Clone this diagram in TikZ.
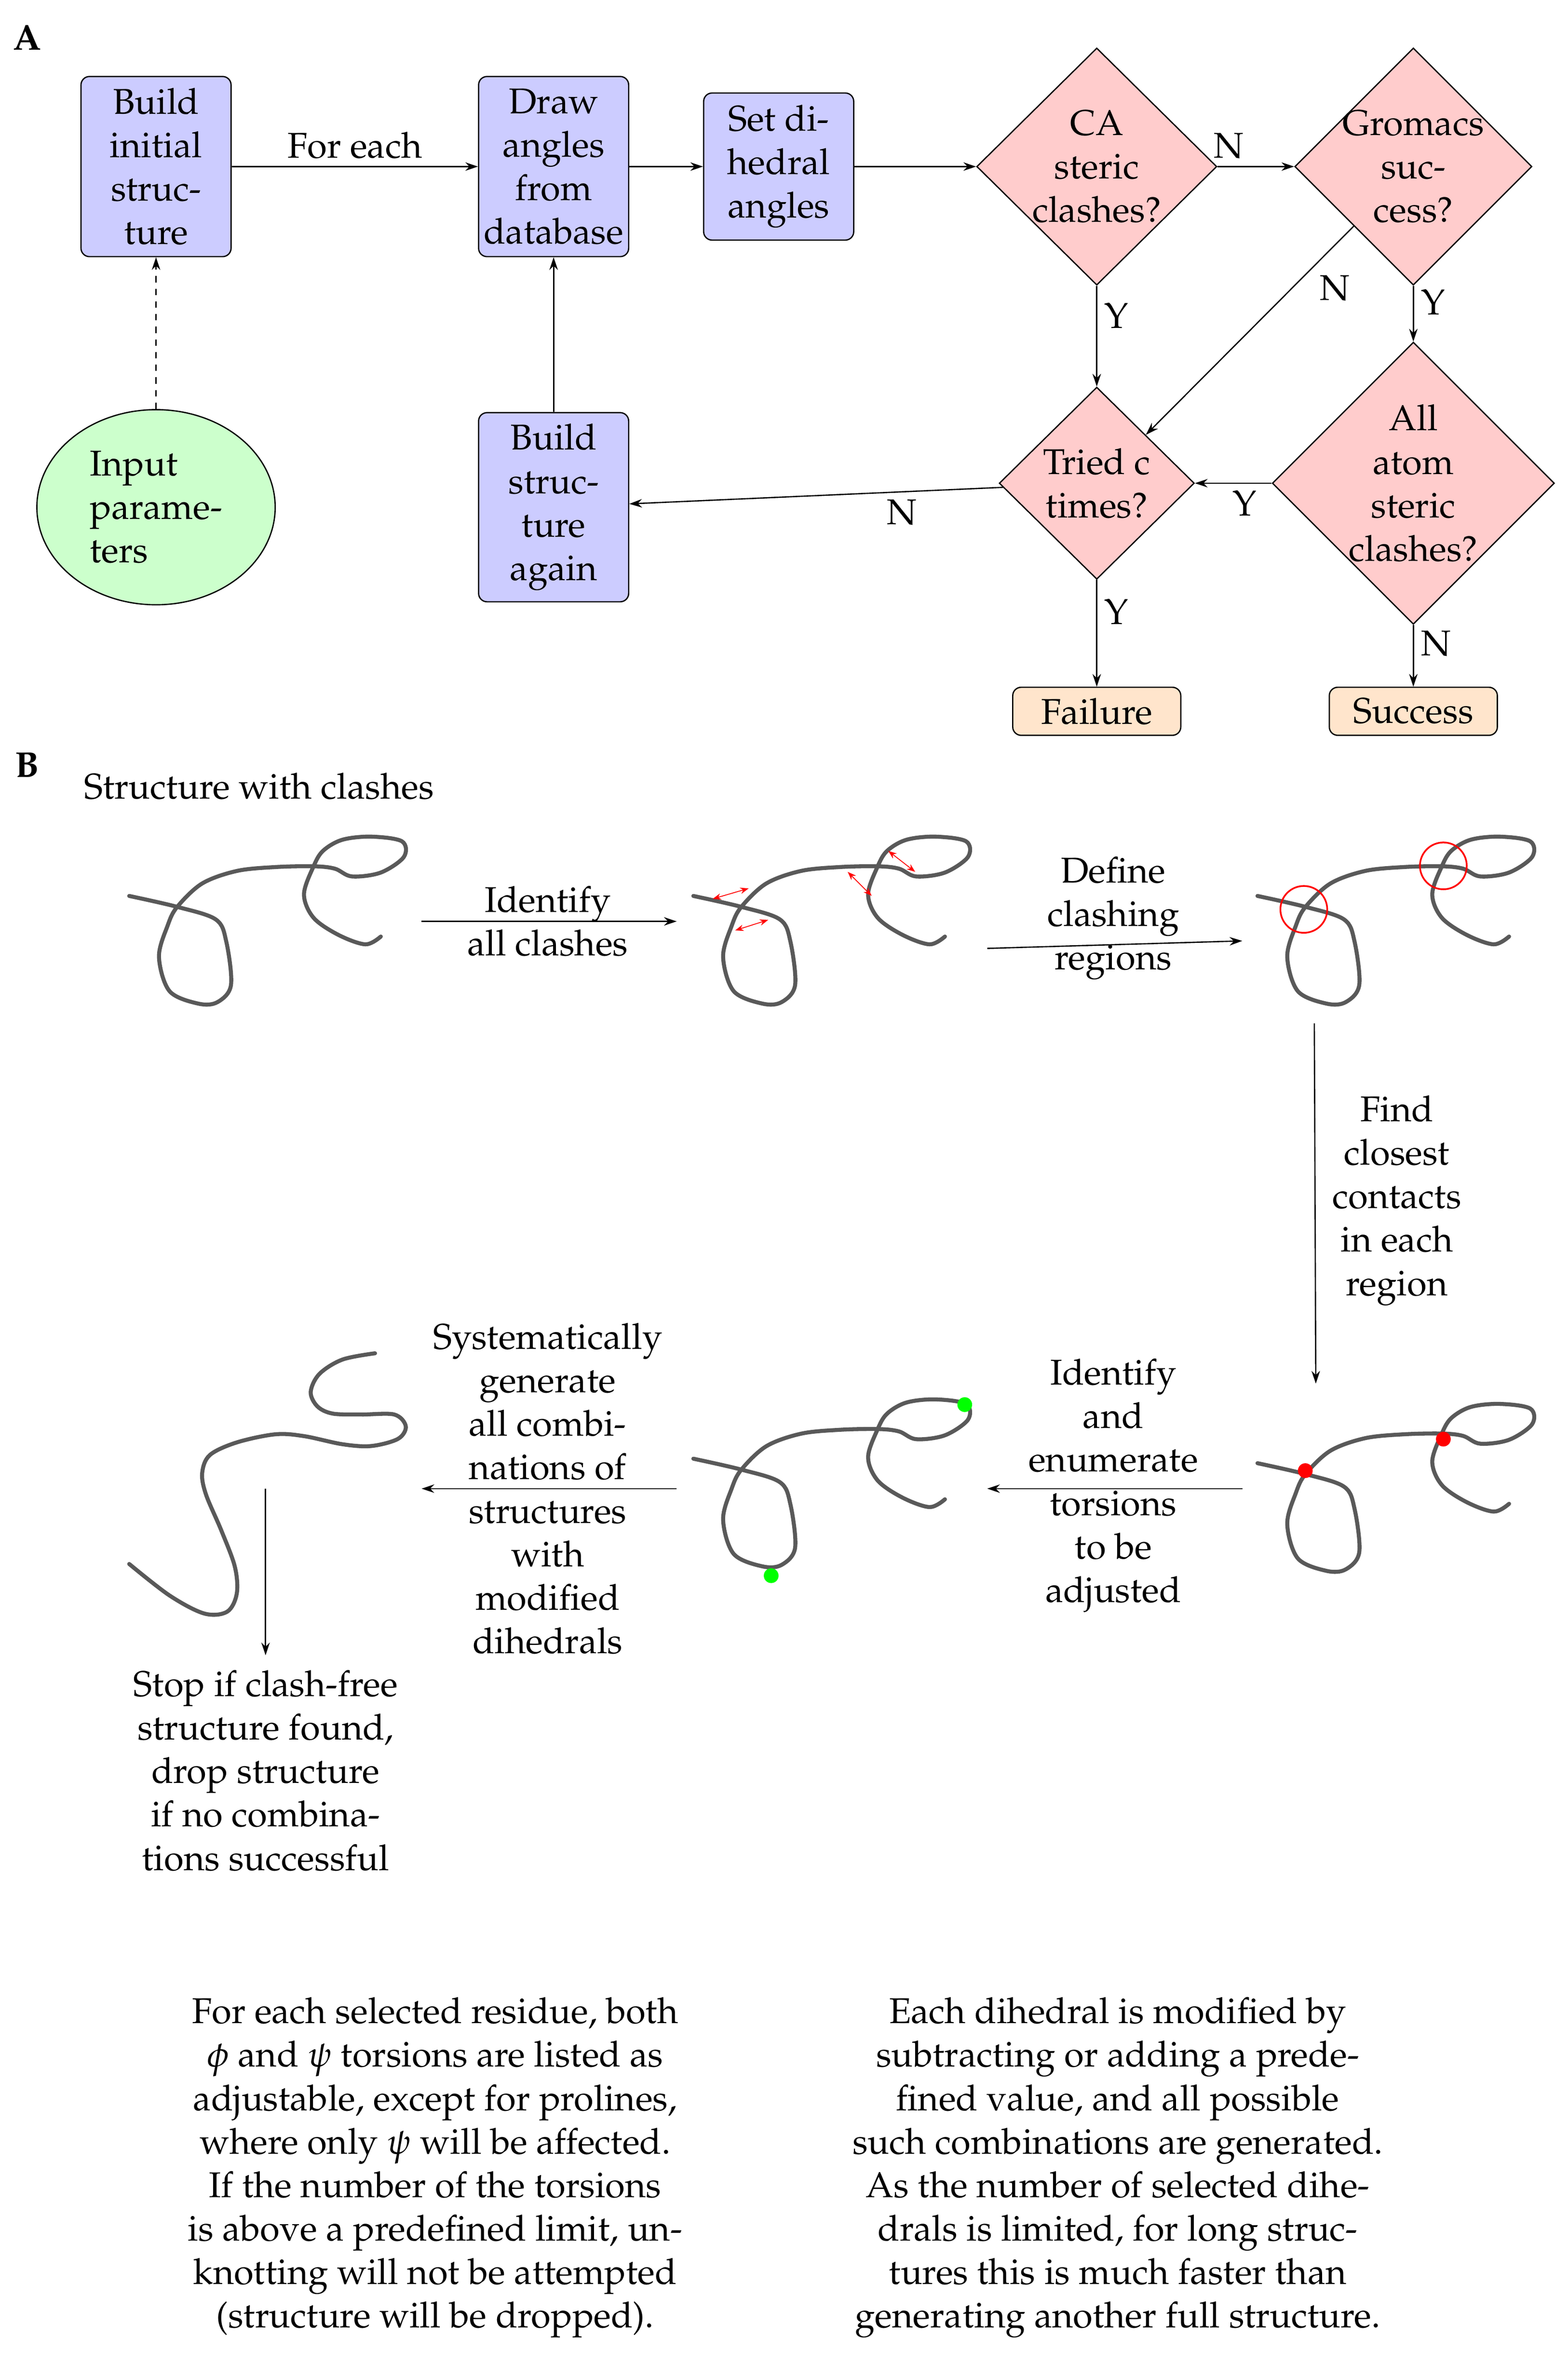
\documentclass[tikz,border=0pt]{standalone}
\usepackage[T1]{fontenc}
\usepackage{mathpazo}
\usetikzlibrary{shapes.geometric,arrows.meta}
\newcommand{\narrow}[1]{\makebox[1.5cm]{#1}}
\begin{document}
\begin{tikzpicture}[x={(0.025cm,0)},y={(0,-0.025cm)},
		font=\fontsize{17pt}{20.6pt}\selectfont,
		every path/.style={semithick},
		stage/.style={rectangle,rounded corners,draw,fill=blue!20,align=center,minimum width=2.5cm,minimum height=3cm,inner sep=2pt},
		test/.style={diamond,draw,fill=red!20,align=center,inner sep=0pt},
		ends/.style={rectangle,rounded corners,draw,fill=orange!20,minimum width=2.8cm,minimum height=0.8cm,inner sep=0pt},
		marrow/.style={-{Stealth[length=6pt,width=4pt]},semithick},
		chain/.style={line width=1.9pt,draw=black!65,line cap=round},
		clash/.style={{Stealth[length=4pt]}-{Stealth[length=4pt]},red,thin},
		txt/.style={align=center}]
		\useasboundingbox (0,0) rectangle (1045,1576);
		\node[font=\fontsize{17pt}{20.6pt}\bfseries] (la) at (18,25) {A};
		\node[font=\fontsize{17pt}{20.6pt}\bfseries] (lb) at (18,510) {B};

		% part A
		\node[stage] (init) at (104,111) {Build\\initial\\struc-\\ture};
		\node[stage] (draw) at (369,111) {Draw\\angles\\from\\database};
		\node[stage,minimum height=2.45cm] (set) at (519,111) {Set di-\\hedral\\angles};
		\node[test,minimum width=4cm,minimum height=3.95cm] (ca) at (731,111) {CA\\steric\\\narrow{clashes?}};
		\node[test,minimum width=3.95cm,minimum height=3.95cm] (gro) at (942,111) {\narrow{Gromacs}\\suc-\\cess?};
		\node[ellipse,draw,fill=green!20,align=left,minimum width=3.97cm,minimum height=3.25cm] (inp) at (104,338) {Input\\parame-\\ters};
		\node[stage,minimum height=3.15cm] (again) at (369,338) {Build\\struc-\\ture\\again};
		\node[test,minimum width=3.25cm,minimum height=3.2cm] (tried) at (731,322) {Tried c\\times?};
		\node[test,minimum width=4.7cm,minimum height=4.7cm] (atom) at (942,322) {All\\atom\\steric\\\narrow{clashes?}};
		\node[ends] (fail) at (731,474) {Failure};
		\node[ends] (succ) at (942,474) {Success};

		% connection
		\draw [marrow] (init) to node [above] {For each} (draw);
		\draw [marrow] (draw) to (set);
		\draw [marrow] (set) to (ca);
		\draw [marrow] (ca) to node [pos=0.15,above] {N} (gro);
		\draw [marrow] (ca) to node [pos=0.3,right] {Y} (tried);
		\draw [marrow] (gro.south west) to node [pos=0.2,below right] {N} (tried.north east);
		\draw [marrow] (gro) to node [pos=0.3,right] {Y} (atom);
		\draw [marrow] (atom) to node [pos=0.35,below] {Y} (tried);
		\draw [marrow] (tried) to node [pos=0.27,below] {N} (again);
		\draw [marrow] (again) to (draw);
		\draw [marrow,dashed] (inp) to (init);
		\draw [marrow] (tried) to node [pos=0.3,right] {Y} (fail);
		\draw [marrow] (atom) to node [pos=0.3,right] {N} (succ);

		% part B
		\node[anchor=west] (swc) at (51,524) {Structure with clashes};
		\foreach \dx/\dy in {0/0,376/0,752/0,376/375,752/378} {
			\begin{scope}[shift={(81+\dx,544+\dy)},xscale=0.128,yscale=0.104]
				\draw[chain] plot[smooth,tension=0.55] coordinates {(40,510) (290,580) (490,660) (545,800) (570,1080) (500,1190) (400,1200) (250,1120) (195,900) (240,700) (290,580) (420,430) (600,350) (800,325) (1000,320) (1110,335) (1200,385) (1350,360) (1470,260) (1460,160) (1300,130) (1150,150) (1050,220) (1000,320) (950,500) (1000,650) (1130,760) (1270,820) (1350,770)};
			\end{scope}
		}
		\begin{scope}[shift={(81,888)},xscale=0.128,yscale=0.12]
			\draw[chain] plot[smooth,tension=0.55] coordinates {(1320,115) (1150,150) (1030,230) (985,330) (1020,410) (1100,450) (1250,455) (1420,455) (1480,520) (1440,590) (1300,630) (1150,620) (950,575) (800,565) (600,610) (460,680) (420,780) (440,900) (520,1100) (590,1300) (600,1450) (550,1550) (430,1560) (250,1460) (40,1285)};
		\end{scope}
		\draw[clash] (475,599) -- (499,592);
		\draw[clash] (490,620) -- (512,613);
		\draw[clash] (565,581) -- (581,597);
		\draw[clash] (592,567) -- (610,581);
		\node[circle,draw=red,thick,minimum size=0.78cm] (ra) at (869,606) {};
		\node[circle,draw=red,thick,minimum size=0.78cm] (rb) at (962,577) {};
		\node[circle,fill=red,inner sep=0pt,minimum size=7pt] (da) at (870,980) {};
		\node[circle,fill=red,inner sep=0pt,minimum size=7pt] (db) at (962,959) {};
		\node[circle,fill=green,inner sep=0pt,minimum size=7pt] (ga) at (643,936) {};
		\node[circle,fill=green,inner sep=0pt,minimum size=7pt] (gb) at (514,1050) {};

		\coordinate (s1) at (281,614); \coordinate (e1) at (451,614);
		\coordinate (s2) at (658,632); \coordinate (e2) at (828,627);
		\coordinate (s3) at (876,682); \coordinate (e3) at (877,922);
		\coordinate (s4) at (828,992); \coordinate (e4) at (658,992);
		\coordinate (s5) at (451,992); \coordinate (e5) at (281,992);
		\coordinate (s6) at (177,992); \coordinate (e6) at (177,1103);
		\draw [marrow] (s1) -- (e1);
		\draw [marrow] (s2) -- (e2);
		\draw [marrow] (s3) -- (e3);
		\draw [marrow] (s4) -- (e4);
		\draw [marrow] (s5) -- (e5);
		\draw [marrow] (s6) -- (e6);
		\node[txt] (t1) at (365,614) {Identify\\all clashes};
		\node[txt] (t2) at (742,612) {Define\\clashing\\regions};
		\node[txt] (t3) at (931,800) {Find\\closest\\contacts\\in each\\region};
		\node[txt] (t4) at (742,990) {Identify\\and\\enumerate\\torsions\\to be\\adjusted};
		\node[txt] (t5) at (365,992) {Systematically\\generate\\all combi-\\nations of\\structures\\with\\modified\\dihedrals};
		\node[txt,anchor=north] (t6) at (177,1108) {Stop if clash-free\\structure found,\\drop structure\\if no combina-\\tions successful};

		\node[txt,anchor=north] (p1) at (290,1326) {For each selected residue, both\\$\phi$ and $\psi$ torsions are listed as\\adjustable, except for prolines,\\where only $\psi$ will be affected.\\If the number of the torsions\\is above a predefined limit, un-\\knotting will not be attempted\\(structure will be dropped).};
		\node[txt,anchor=north] (p2) at (745,1326) {Each dihedral is modified by\\subtracting or adding a prede-\\fined value, and all possible\\such combinations are generated.\\As the number of selected dihe-\\drals is limited, for long struc-\\tures this is much faster than\\generating another full structure.};
	\end{tikzpicture}
\end{document}
